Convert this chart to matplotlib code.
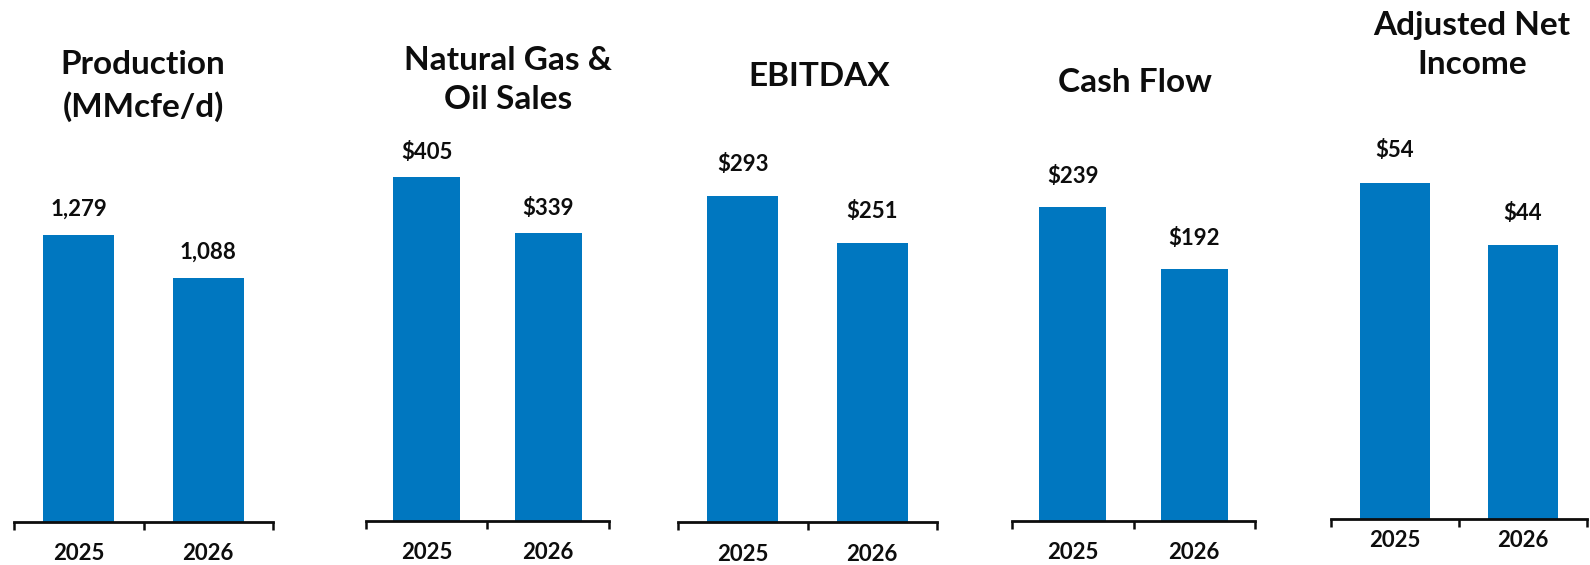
import matplotlib
matplotlib.use('Agg')
import matplotlib.pyplot as plt

# data
years = ['2025', '2026']
titles = ['Production\n(MMcfe/d)', 'Natural Gas &\nOil Sales', 'EBITDAX', 'Cash Flow', 'Adjusted Net\nIncome']
production = [1279, 1088]
sales = [405, 339]
ebitdax = [293, 251]
cash_flow = [239, 192]
net_income = [54, 44]
series = [production, sales, ebitdax, cash_flow, net_income]
label_fmt = ['{:,}', '${}', '${}', '${}', '${}']

# layout (pixels of a 1590x565 figure)
W, H = 1590, 565
axis_px = [(14, 273, 521.7), (365.7, 609, 520.7), (678, 937, 522), (1012, 1255, 520.7), (1331, 1587, 519)]
ytop = [2327, 613.6, 469, 396.7, 83.4]
title_px = [(143, 86), (508, 80), (819, 77), (1135, 82), (1472, 45)]
label_gap = [26, 25, 31, 30, 32]
year_pad = [15, 15, 16, 15, 8]

bar_color = '#0077C0'
txt = '#0D0D0D'
plt.rcParams['font.family'] = ['Lato', 'DejaVu Sans']

fig = plt.figure(figsize=(W / 100, H / 100), dpi=100)

for i in range(5):
    x0, x1, yb = axis_px[i]
    ax = fig.add_axes([x0 / W, 1 - yb / H, (x1 - x0) / W, yb / H])
    ax.patch.set_visible(False)
    vals = series[i]
    ax.bar(range(len(vals)), vals, width=0.55, color=bar_color)
    ax.set_xlim(-0.5, 1.5)
    ax.set_ylim(0, ytop[i])
    for s in ['top', 'right', 'left']:
        ax.spines[s].set_visible(False)
    ax.spines['bottom'].set_linewidth(2)
    ax.spines['bottom'].set_color(txt)
    ax.set_yticks([])
    ax.set_xticks([0, 1])
    ax.set_xticklabels(years, fontsize=16, fontweight='bold', color=txt)
    ax.tick_params(axis='x', which='major', length=0, pad=year_pad[i])
    ax.set_xticks([-0.5, 0.5, 1.5], minor=True)
    ax.tick_params(axis='x', which='minor', length=6, width=1.8, color=txt, direction='out')
    for j, v in enumerate(vals):
        ax.annotate(label_fmt[i].format(v), (j, v), xytext=(0, label_gap[i] * 0.72),
                    textcoords='offset points', ha='center', va='center',
                    fontsize=16, fontweight='bold', color=txt)
    tx, ty = title_px[i]
    fig.text(tx / W, 1 - ty / H, titles[i], ha='center', va='center', fontsize=24,
             fontweight='bold', color=txt, linespacing=1.45)

fig.savefig('out.png', dpi=100, facecolor='white')
